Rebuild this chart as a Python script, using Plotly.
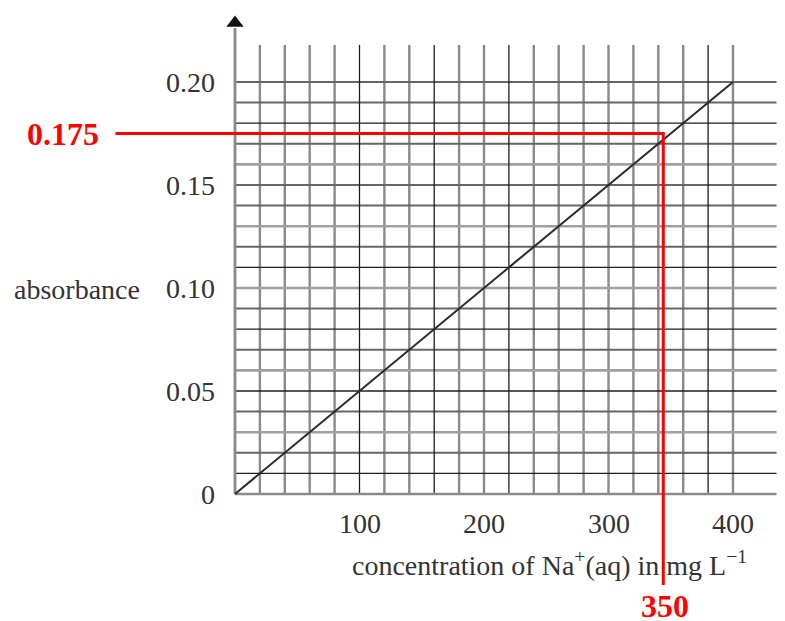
import plotly.graph_objects as go

# ---- data ----
concentration = [0, 400]            # mg L^-1
absorbance = [0.0, 0.20]
x_tick_vals = [100, 200, 300, 400]
x_tick_text = ["100", "200", "300", "400"]
y_tick_vals = [0, 0.05, 0.10, 0.15, 0.20]
y_tick_text = ["0", "0.05", "0.10", "0.15", "0.20"]
grid_x = [0, 20, 40, 60, 80, 100, 120, 140, 160, 180, 200, 220, 240, 260, 280, 300, 320, 340, 360, 380, 400]
grid_y = [0, 0.01, 0.02, 0.03, 0.04, 0.05, 0.06, 0.07, 0.08, 0.09, 0.10,
          0.11, 0.12, 0.13, 0.14, 0.15, 0.16, 0.17, 0.18, 0.19, 0.20]
reading_abs = 0.175
reading_abs_label = "0.175"
reading_conc = 344
reading_conc_label = "350"

# ---- styling / layout constants ----
W, H = 785, 621
PAGE_OFFSET = 8          # default body margin of the page
X0_PX, Y0_PX = 235, 494  # window pixel of the origin
PX_PER_X = 1.245         # pixels per mg L^-1
PX_PER_Y = 2060          # pixels per absorbance unit
X_RANGE = [(PAGE_OFFSET - X0_PX) / PX_PER_X, (W + PAGE_OFFSET - X0_PX) / PX_PER_X]
Y_RANGE = [(Y0_PX - H - PAGE_OFFSET) / PX_PER_Y, (Y0_PX - PAGE_OFFSET) / PX_PER_Y]
GRID_TOP = 0.218
GRID_RIGHT = 435
AXIS_TOP = 0.2262
dark_x = {100, 160, 220, 380}
dark_y = {0.01, 0.05, 0.08, 0.11, 0.18}
light_y = {0.03, 0.06, 0.10, 0.13, 0.16}
FONT = "Liberation Serif, Times New Roman, serif"
TXT = "#333333"

fig = go.Figure()

def add_lines(segs, color, width):
    xs, ys = [], []
    for (x0, y0, x1, y1) in segs:
        xs += [x0, x1, None]
        ys += [y0, y1, None]
    fig.add_trace(go.Scatter(x=xs, y=ys, mode="lines", hoverinfo="skip",
                             line=dict(color=color, width=width), showlegend=False))

# vertical grid lines
v_grey = [(x, 0, x, GRID_TOP) for x in grid_x if x not in dark_x and x != 0]
v_dark = [(x, 0, x, GRID_TOP) for x in grid_x if x in dark_x]
# horizontal grid lines
h_mid = [(0, y, GRID_RIGHT, y) for y in grid_y
         if round(y, 2) not in dark_y and round(y, 2) not in light_y and y != 0]
h_light = [(0, y, GRID_RIGHT, y) for y in grid_y if round(y, 2) in light_y]
h_dark = [(0, y, GRID_RIGHT, y) for y in grid_y if round(y, 2) in dark_y]

add_lines(v_grey, "#8a8a8a", 2.4)
add_lines(h_light, "#a0a0a0", 2.6)
add_lines(h_mid, "#666666", 2.0)
add_lines(v_dark, "#1e1e1e", 1.3)
add_lines(h_dark, "#1e1e1e", 1.3)
# axes
add_lines([(0, 0, GRID_RIGHT, 0)], "#8a8a8a", 2.6)
add_lines([(0, 0, 0, AXIS_TOP)], "#8a8a8a", 2.8)
fig.add_trace(go.Scatter(x=[0], y=[AXIS_TOP + 0.0025], mode="markers", hoverinfo="skip",
                         marker=dict(symbol="triangle-up", size=15, color="#111111"),
                         showlegend=False))

# calibration line
fig.add_trace(go.Scatter(x=concentration, y=absorbance, mode="lines", hoverinfo="skip",
                         line=dict(color="#2a2a2a", width=2), showlegend=False))

# red reading lines
fig.add_trace(go.Scatter(x=[-96, reading_conc, reading_conc], y=[reading_abs, reading_abs, -0.0442],
                         mode="lines", hoverinfo="skip",
                         line=dict(color="#ff0000", width=3), showlegend=False))

ann = []
for v, t in zip(y_tick_vals, y_tick_text):
    ann.append(dict(x=-14.5, y=v, text=t, xanchor="right", yanchor="middle",
                    showarrow=False, font=dict(family=FONT, size=28, color=TXT)))
for v, t in zip(x_tick_vals, x_tick_text):
    ann.append(dict(x=v, y=-0.0143, text=t, xanchor="center", yanchor="middle",
                    showarrow=False, font=dict(family=FONT, size=28, color=TXT)))
ann.append(dict(x=-127, y=0.0995, text="absorbance", xanchor="center", yanchor="middle",
                showarrow=False, font=dict(family=FONT, size=28, color=TXT)))
ann.append(dict(x=253, y=-0.0335, text="concentration of Na<sup>+</sup>(aq) in mg L<sup>\u22121</sup>",
                xanchor="center", yanchor="middle",
                showarrow=False, font=dict(family=FONT, size=28, color=TXT)))
ann.append(dict(x=-137.8, y=reading_abs, text="<b>" + reading_abs_label + "</b>",
                xanchor="center", yanchor="middle",
                showarrow=False, font=dict(family=FONT, size=32, color="#ff0000")))
ann.append(dict(x=345.4, y=-0.0545, text="<b>" + reading_conc_label + "</b>",
                xanchor="center", yanchor="middle",
                showarrow=False, font=dict(family=FONT, size=32, color="#ff0000")))

fig.update_layout(
    width=W, height=H,
    margin=dict(l=0, r=0, t=0, b=0),
    paper_bgcolor="white", plot_bgcolor="white",
    xaxis=dict(range=X_RANGE, visible=False, fixedrange=True),
    yaxis=dict(range=Y_RANGE, visible=False, fixedrange=True),
    annotations=ann,
    showlegend=False,
)

fig.write_html("out.html", config={"displayModeBar": False})
